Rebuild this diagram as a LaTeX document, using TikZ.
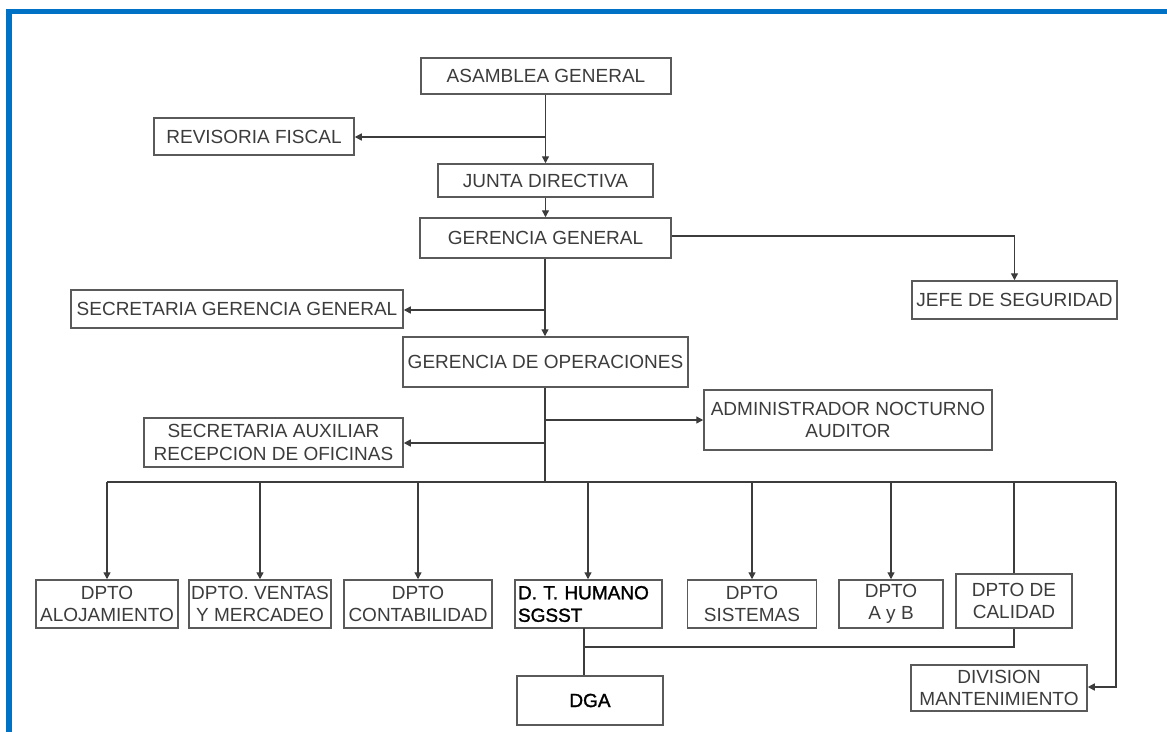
\documentclass[tikz,border=0pt]{standalone}
\usepackage{fontspec}
\setmainfont{Liberation Sans}
\newfontfamily\boldish[FakeBold=1.5]{Liberation Sans}
\usetikzlibrary{arrows.meta}
\definecolor{frameblue}{RGB}{0,114,198}
\definecolor{txtgray}{RGB}{60,60,60}
\definecolor{linegray}{RGB}{60,60,60}
\definecolor{boxgray}{RGB}{90,90,90}
\tikzset{
  box/.style={draw=boxgray, line width=1.5pt, inner sep=0pt, align=center,
    text=txtgray, font=\fontsize{19}{22.5}\selectfont},
  darkbox/.style={box, text=black, font=\boldish\fontsize{19}{22.5}\selectfont},
  conn/.style={draw=linegray, line width=1.4pt},
  arr/.style={conn, -{Triangle[length=7pt,width=7pt]}},
  frameline/.style={draw=frameblue, line width=5.5pt}
}
\begin{document}
\begin{tikzpicture}[x=1pt,y=-1pt]
\useasboundingbox (0,0) rectangle (1167,731);
\draw[frameline] (9,745) -- (9,11.5) -- (1180,11.5);

% top chain
\node[box, minimum width=250, minimum height=36] (asam) at (546,76) {ASAMBLEA GENERAL};
\node[box, minimum width=200, minimum height=37] (rev) at (254,136.5) {REVISORIA FISCAL};
\node[box, minimum width=215, minimum height=33] (junta) at (545.5,180.5) {JUNTA DIRECTIVA};
\node[box, minimum width=251, minimum height=40] (gg) at (545.5,238) {GERENCIA GENERAL};
\node[box, minimum width=205, minimum height=38] (jefe) at (1014.5,300) {JEFE DE SEGURIDAD};
\node[box, minimum width=332, minimum height=38] (sgg) at (237,309) {SECRETARIA GERENCIA GENERAL};
\node[box, minimum width=285, minimum height=50] (gdo) at (545.5,362) {GERENCIA DE OPERACIONES};
\node[box, minimum width=288, minimum height=60] (admin) at (848,420) {ADMINISTRADOR NOCTURNO\\AUDITOR};
\node[box, minimum width=259, minimum height=49] (saux) at (273.5,442.5) {SECRETARIA AUXILIAR\\RECEPCION DE OFICINAS};

% departments
\node[box, minimum width=142, minimum height=48] (aloj) at (107,604) {DPTO\\ALOJAMIENTO};
\node[box, minimum width=142, minimum height=48] (ventas) at (260,604) {DPTO. VENTAS\\Y MERCADEO};
\node[box, minimum width=148, minimum height=48] (conta) at (418,604) {DPTO\\CONTABILIDAD};
\node[darkbox, minimum width=147, minimum height=48, text width=141, align=left] (human) at (588.5,604) {D. T. HUMANO\\SGSST};
\node[box, minimum width=129, minimum height=48] (sist) at (752,604) {DPTO\\SISTEMAS};
\node[box, minimum width=104, minimum height=48] (ayb) at (891,604) {DPTO\\A y B};
\node[box, minimum width=116, minimum height=54] (cal) at (1014,601) {DPTO DE\\CALIDAD};
\node[darkbox, minimum width=146, minimum height=49] (dga) at (590,700.5) {DGA};
\node[box, minimum width=176, minimum height=46] (div) at (999,688) {DIVISION\\MANTENIMIENTO};

% helper coordinates
\coordinate (trev) at (545,137);
\coordinate (tsgg) at (545,310);
\coordinate (tadm) at (545,420);
\coordinate (tsaux) at (545,443);
\coordinate (tbus) at (545,482);
\coordinate (busL) at (107,482);
\coordinate (busR) at (1116,482);
\coordinate (divR) at (1116,687);
\coordinate (hbot) at (584,628);
\coordinate (hmid) at (584,647);
\coordinate (cmid) at (1014,647);
\coordinate (hdrop) at (588,482);

% connectors top
\draw[arr] (asam.south -| junta.north) -- (junta.north);
\draw[arr] (trev) -- (rev.east |- trev);
\draw[arr] (junta.south) -- (gg.north -| junta.south);
\draw[arr] (gg.east |- 0,236) -| (jefe.north);
\draw[arr] (gg.south -| tsgg) -- (gdo.north -| tsgg);
\draw[arr] (tsgg) -- (sgg.east |- tsgg);
\draw[conn] (gdo.south -| tbus) -- (tbus);
\draw[arr] (tadm) -- (admin.west |- tadm);
\draw[arr] (tsaux) -- (saux.east |- tsaux);

% bus
\draw[conn] (busL) -- (busR);
\draw[arr] (busL) -- (aloj.north);
\draw[arr] (ventas.north |- tbus) -- (ventas.north);
\draw[arr] (conta.north |- tbus) -- (conta.north);
\draw[arr] (hdrop) -- (human.north -| hdrop);
\draw[arr] (sist.north |- tbus) -- (sist.north);
\draw[arr] (ayb.north |- tbus) -- (ayb.north);
\draw[conn] (cal.north |- tbus) -- (cal.north);
\draw[arr] (busR) -- (divR) -- (div.east |- divR);

% human - dga - calidad
\draw[conn] (hbot) -- (dga.north -| hbot);
\draw[conn] (hmid) -- (cmid) -- (cal.south);
\end{tikzpicture}
\end{document}
